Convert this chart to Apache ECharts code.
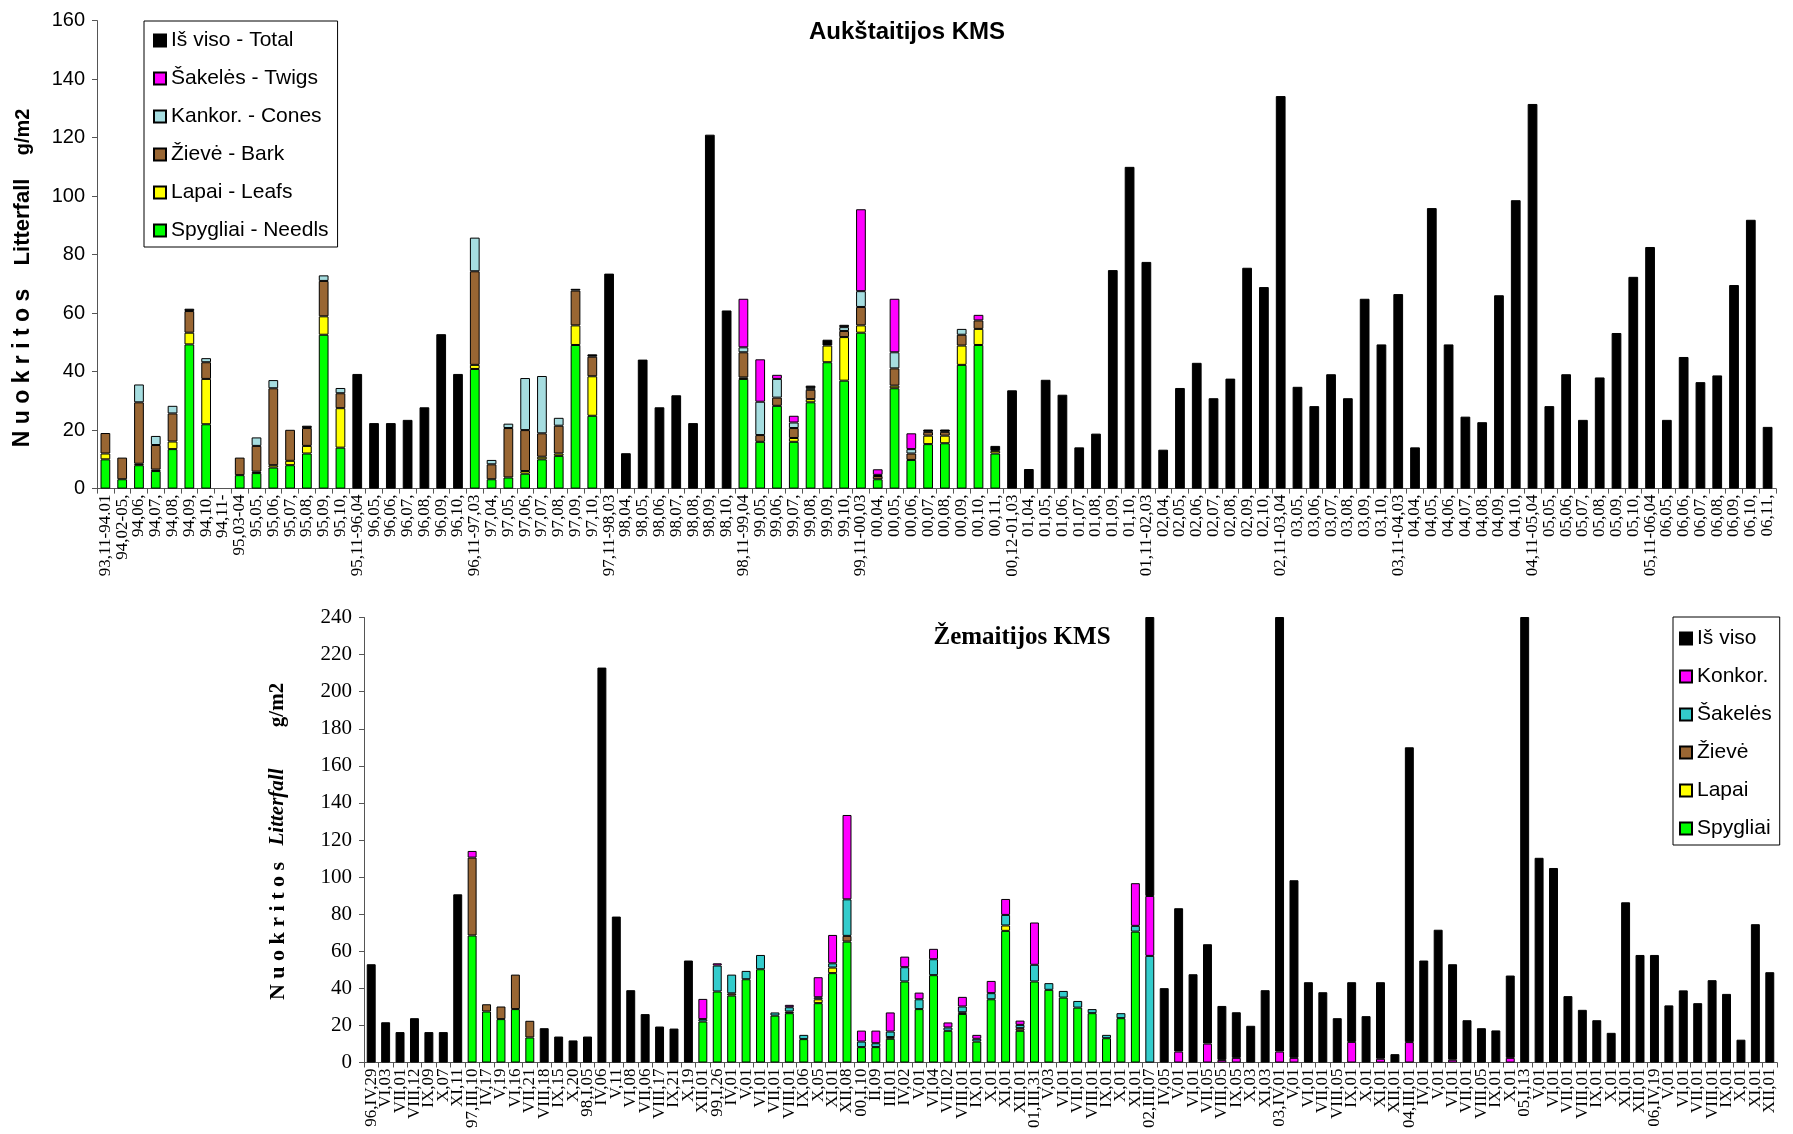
<!DOCTYPE html>
<html>
<head>
<meta charset="utf-8">
<script src="https://cdn.jsdelivr.net/npm/echarts@6/dist/echarts.min.js"></script>
<style>
  html, body { margin: 0; padding: 0; background: #fff; }
  #chart { width: 1793px; height: 1134px; }
</style>
</head>
<body>
<div id="chart"></div>
<script>
// ---------- Aukštaitijos KMS (monthly / seasonal periods) ----------
const topCategories = [
  '93,11-94.01','94,02-05,','94,06,','94,07,','94,08,','94,09,','94,10,','94,11-','95,03-04','95,05,',
  '95,06,','95,07,','95,08,','95,09,','95,10,','95,11-96,04','96,05,','96,06,','96,07,','96,08,',
  '96,09,','96,10,','96,11-97,03','97,04,','97,05,','97,06,','97,07,','97,08,','97,09,','97,10,',
  '97,11-98,03','98,04,','98,05,','98,06,','98,07,','98,08,','98,09,','98,10,','98,11-99,04','99,05,',
  '99,06,','99,07,','99,08,','99,09,','99,10,','99,11-00,03','00,04,','00,05,','00,06,','00,07,',
  '00,08,','00,09,','00,10,','00,11,','00,12-01,03','01,04,','01,05,','01,06,','01,07,','01,08,',
  '01,09,','01,10,','01,11-02,03','02,04,','02,05,','02,06,','02,07,','02,08,','02,09,','02,10,',
  '02,11-03,04','03,05,','03,06,','03,07,','03,08,','03,09,','03,10,','03,11-04,03','04,04,','04,05,',
  '04,06,','04,07,','04,08,','04,09,','04,10,','04,11-05,04','05,05,','05,06,','05,07,','05,08,',
  '05,09,','05,10,','05,11-06,04','06,05,','06,06,','06,07,','06,08,','06,09,','06,10,','06,11,'
];
const topNeedles = [
  10,3.2,8,6,13.5,49.3,22,null,4.6,5.3,
  7.2,8,12,52.6,14,null,null,null,null,null,
  null,null,40.9,3.2,3.8,5.1,10,11.2,49.1,24.9,
  null,null,null,null,null,null,null,null,37.5,16,
  28.3,16,29.5,43.2,36.9,53.3,3.2,34.3,9.8,15.2,
  15.5,42.3,49.1,12
];
const topLeafs = [
  2,null,0.5,0.5,2.6,4,15.5,null,null,0.5,
  0.8,1.5,2.6,6.3,13.5,null,null,null,null,null,
  null,null,1.4,null,null,0.9,0.9,0.8,6.7,13.5,
  null,null,null,null,null,null,null,null,0.5,null,
  null,1.3,1.1,5.7,14.9,2.5,null,0.9,null,2.9,
  2.6,6.6,5.5,0.9
];
const topBark = [
  7,7.4,21,8.4,9.6,7.4,5.7,null,6,8.8,
  26.3,10.6,6.1,12.1,5.1,null,null,null,null,null,
  null,null,32,5.1,16.9,14,8,9.5,11.9,6.7,
  null,null,null,null,null,null,null,null,8.6,2.3,
  2.8,3.4,3.2,null,2.1,6.3,1.1,5.9,2.2,1.3,
  1.3,3.7,2.9
];
const topCones = [
  null,null,6.1,3.1,2.6,null,1.4,null,null,2.9,
  2.8,null,null,1.9,1.8,null,null,null,null,null,
  null,null,11.5,1.5,1.5,17.8,19.6,2.7,null,null,
  null,null,null,null,null,null,null,null,1.7,11.4,
  6.4,1.9,0.5,null,1.3,5.4,0.4,5.5,1.5,null,
  null,2
];
const topTwigs = [
  null,null,null,null,null,null,null,null,null,null,
  null,null,null,null,null,null,null,null,null,null,
  null,null,null,null,null,null,null,null,null,null,
  null,null,null,null,null,null,null,null,16.6,14.5,
  1.4,2.3,null,null,null,28,1.9,18.3,5.4,null,
  null,null,1.9
];
const topTotal = [
  null,null,null,null,null,0.8,null,null,null,null,
  null,null,0.8,null,null,39.2,22.4,22.4,23.5,27.8,
  52.8,39.2,null,null,null,null,null,null,0.6,0.8,
  73.5,12.1,44.1,27.8,31.9,22.4,121,60.9,null,null,
  null,null,0.9,2,0.8,null,null,null,null,0.8,
  0.8,null,null,1.7,33.6,6.7,37.2,32.1,14.1,18.8,
  74.7,110,77.5,13.3,34.4,43,30.9,37.6,75.5,68.9,
  134.2,34.8,28.2,39.1,30.9,64.9,49.3,66.5,14.1,95.9,
  49.3,24.6,22.7,66.1,98.6,131.5,28.2,39.1,23.5,38,
  53.2,72.4,82.6,23.5,45,36.4,38.7,69.6,91.9,21.1
];
const topTicks = [0, 20, 40, 60, 80, 100, 120, 140, 160];

// ---------- Žemaitijos KMS (sampling dates) ----------
const bottomCategories = [
  '96,IV,29','VI,03','VII,01','VIII,12','IX,09','X,07','XI,11','97,III,10','IV,17','V,19',
  'VI,16','VII,21','VIII,18','IX,15','X,20','98,I,05','IV,06','V,11','VI,08','VII,06',
  'VIII,17','IX,21','X,19','XII,01','99,I,26','IV,01','V,01','VI,01','VII,01','VIII,01',
  'IX,06','X,05','XI,01','XII,08','00,I,10','II,09','III,01','IV,02','V,01','VI,04',
  'VII,02','VIII,01','IX,01','X,01','XI,01','XII,01','01,III,31','V,03','VI,01','VII,01',
  'VIII,01','IX,01','X,01','XI,01','02,III,07','IV,05','V,01','VI,01','VII,05','VIII,05',
  'IX,05','X,03','XI,03','03,IV,01','V,01','VI,01','VII,01','VIII,05','IX,01','X,01',
  'XI,01','XII,01','04,III,01','IV,01','V,01','VI,01','VII,01','VIII,05','IX,01','X,01',
  '05,I,13','V,01','VI,01','VII,01','VIII,01','IX,01','X,01','XI,01','XII,01','06,IV,19',
  'V,01','VI,01','VII,01','VIII,01','IX,01','X,01','XI,01','XII,01'
];
const bottomNeedles = [
  null,null,null,null,null,null,null,68.5,27.5,23.4,
  28.8,13.5,null,null,null,null,null,null,null,null,
  null,null,null,22.1,38.3,36.1,44.9,50.3,25.3,26.6,
  12.6,32,48.2,65.2,8.3,8.3,12.8,43.7,28.8,47.1,
  17.1,26.2,11.3,34.1,71,17.1,43.7,39.2,35,29.6,
  26.6,13.1,23.9,70.6
];
const bottomLeafs = [
  null,null,null,null,null,null,null,null,null,null,
  null,null,null,null,null,null,null,null,null,null,
  null,null,null,null,null,null,null,null,null,null,
  null,2.1,3,null,null,null,null,null,null,null,
  null,null,null,null,2.9
];
const bottomBark = [
  null,null,null,null,null,null,null,42,3.9,6.8,
  18.6,9,null,null,null,null,null,null,null,null,
  null,null,null,null,null,1.2,null,null,null,0.9,
  null,null,null,3.1,null,null,0.9,null,null,null,
  null,0.9,null,null,null,1.4
];
const bottomTwigs = [
  null,null,null,null,null,null,null,null,null,null,
  null,null,null,null,null,null,null,null,null,null,
  null,null,null,1.3,14,10.1,4.5,7.7,1.7,2.3,
  2.3,1.1,2.3,19.7,3,2.1,3,7.7,5.3,8.6,
  1.8,3.1,1.5,3.3,5.7,1.8,9,3.6,3.6,3.6,
  2.2,1.8,2.7,3.1,57.5
];
const bottomCones = [
  null,null,null,null,null,null,null,3.6,null,null,
  null,null,null,null,null,null,null,null,null,null,
  null,null,null,10.9,1.2,null,null,null,null,1.3,
  null,10.8,15.3,45.5,5.9,6.8,10.3,5.7,3.6,5.6,
  2.7,5.2,2.1,6.6,8.6,2.3,22.8,null,null,null,
  null,null,null,23,32.3,null,5.9,null,10.2,1.4,
  2.5,null,null,5.9,2.5,null,null,null,11.1,null,
  2,null,11,null,null,1.5,null,null,null,2.5
];
const bottomTotal = [
  53,21.7,16.4,23.9,16.4,16.4,90.7,null,null,null,
  null,null,18.5,14,11.9,14,213,78.7,39,26.1,
  19.4,18.3,55,null,null,null,null,null,null,null,
  null,null,null,null,null,null,null,null,null,null,
  null,null,null,null,null,null,null,null,null,null,
  null,null,null,null,160,40.1,77.3,47.6,53.6,29.1,
  24.6,19.8,39,250,95.8,43.3,37.9,23.9,32.2,25,
  41.3,4.5,159,55,71.6,51.5,22.8,18.5,17.3,44.4,
  260,110.4,104.9,35.8,28.4,22.8,16,86.4,58,58,
  30.8,38.9,32,44.4,37,12.3,74.6,48.7
];
const bottomTicks = [0, 20, 40, 60, 80, 100, 120, 140, 160, 180, 200, 220, 240];

// ---------- drawing ----------
const GREEN = '#00FF00', YELLOW = '#FFFF00', BROWN = '#996633',
      LIGHTBLUE = '#A6DDE0', MAGENTA = '#FF00FF', TEAL = '#33CCCC', BLACK = '#000000';
const SANS = '"Liberation Sans", Arial, sans-serif';
const SERIF = '"Liberation Serif", "Times New Roman", serif';

const fill = (arr, n) => arr.concat(new Array(Math.max(0, n - arr.length)).fill(null));

function stackedBar(name, values, color, axis, n, width) {
  return {
    type: 'bar', name: name, data: fill(values, n),
    stack: 'litter' + axis, xAxisIndex: axis, yAxisIndex: axis,
    barWidth: width,
    itemStyle: { color: color, borderColor: '#000', borderWidth: 1 },
    emphasis: { disabled: true },
    animation: false
  };
}

const nTop = topCategories.length, nBottom = bottomCategories.length;

const chart = echarts.init(document.getElementById('chart'), null, { renderer: 'canvas' });

function catAxis(gridIndex, data) {
  return {
    type: 'category', gridIndex: gridIndex, data: data,
    axisLine: { show: true, lineStyle: { color: '#555', width: 1 } },
    axisTick: { show: true, length: 5, lineStyle: { color: '#555' } },
    axisLabel: {
      interval: 0, rotate: 90, margin: 6, color: '#000',
      fontFamily: SERIF, fontSize: 17
    },
    splitLine: { show: false }
  };
}
function valAxis(gridIndex, ticks, family, size) {
  return {
    type: 'value', gridIndex: gridIndex,
    min: ticks[0], max: ticks[ticks.length - 1], interval: ticks[1] - ticks[0],
    axisLine: { show: true, lineStyle: { color: '#555', width: 1 } },
    axisTick: { show: true, length: 5, lineStyle: { color: '#555' } },
    axisLabel: { color: '#000', fontFamily: family, fontSize: size, margin: 12 },
    splitLine: { show: false }
  };
}

const option = {
  backgroundColor: '#ffffff',
  animation: false,
  grid: [
    { left: 97, top: 20.6, width: 1679, height: 468, containLabel: false, outerBoundsMode: 'none' },
    { left: 364, top: 617.5, width: 1413, height: 445, containLabel: false, outerBoundsMode: 'none' }
  ],
  xAxis: [ catAxis(0, topCategories), catAxis(1, bottomCategories) ],
  yAxis: [ valAxis(0, topTicks, SANS, 20), valAxis(1, bottomTicks, SERIF, 21) ],
  legend: [
    {
      orient: 'vertical', left: 144, top: 21,
      data: ['Iš viso - Total', 'Šakelės - Twigs', 'Kankor. - Cones', 'Žievė - Bark', 'Lapai - Leafs', 'Spygliai - Needls'],
      icon: 'rect', itemWidth: 12, itemHeight: 12, itemGap: 17,
      padding: [9, 9, 6, 9],
      backgroundColor: '#fff', borderColor: '#000', borderWidth: 1,
      textStyle: { color: '#000', fontFamily: SANS, fontSize: 21 },
      selectedMode: false
    },
    {
      orient: 'vertical', left: 1673, top: 617,
      data: ['Iš viso', 'Konkor.', 'Šakelės', 'Žievė', 'Lapai', 'Spygliai'],
      icon: 'rect', itemWidth: 12, itemHeight: 12, itemGap: 17,
      padding: [11, 8, 6, 6],
      backgroundColor: '#fff', borderColor: '#000', borderWidth: 1,
      textStyle: { color: '#000', fontFamily: SANS, fontSize: 21 },
      selectedMode: false
    }
  ],
  series: [
    stackedBar('Spygliai - Needls', topNeedles, GREEN, 0, nTop, '58%'),
    stackedBar('Lapai - Leafs', topLeafs, YELLOW, 0, nTop, '58%'),
    stackedBar('Žievė - Bark', topBark, BROWN, 0, nTop, '58%'),
    stackedBar('Kankor. - Cones', topCones, LIGHTBLUE, 0, nTop, '58%'),
    stackedBar('Šakelės - Twigs', topTwigs, MAGENTA, 0, nTop, '58%'),
    stackedBar('Iš viso - Total', topTotal, BLACK, 0, nTop, '58%'),

    stackedBar('Spygliai', bottomNeedles, GREEN, 1, nBottom, '62%'),
    stackedBar('Lapai', bottomLeafs, YELLOW, 1, nBottom, '62%'),
    stackedBar('Žievė', bottomBark, BROWN, 1, nBottom, '62%'),
    stackedBar('Šakelės', bottomTwigs, TEAL, 1, nBottom, '62%'),
    stackedBar('Konkor.', bottomCones, MAGENTA, 1, nBottom, '62%'),
    stackedBar('Iš viso', bottomTotal, BLACK, 1, nBottom, '62%')
  ],
  graphic: [
    // chart titles
    { type: 'text', x: 907, y: 32, silent: true,
      style: { text: 'Aukštaitijos KMS', fontFamily: SANS, fontWeight: 'bold', fontSize: 24,
               fill: '#000', textAlign: 'center', textVerticalAlign: 'middle' } },
    { type: 'text', x: 1022, y: 638, silent: true,
      style: { text: 'Žemaitijos KMS', fontFamily: SERIF, fontWeight: 'bold', fontSize: 25,
               fill: '#000', textAlign: 'center', textVerticalAlign: 'middle' } },
    // vertical axis names, upper chart
    { type: 'text', x: 23, y: 368, rotation: Math.PI / 2, silent: true,
      style: { text: 'N u o k r i t o s', fontFamily: SANS, fontWeight: 'bold', fontSize: 23,
               fill: '#000', textAlign: 'center', textVerticalAlign: 'middle' } },
    { type: 'text', x: 23, y: 222, rotation: Math.PI / 2, silent: true,
      style: { text: 'Litterfall', fontFamily: SANS, fontWeight: 'bold', fontSize: 22,
               fill: '#000', textAlign: 'center', textVerticalAlign: 'middle' } },
    { type: 'text', x: 23, y: 132, rotation: Math.PI / 2, silent: true,
      style: { text: 'g/m2', fontFamily: SANS, fontWeight: 'bold', fontSize: 20,
               fill: '#000', textAlign: 'center', textVerticalAlign: 'middle' } },
    // vertical axis names, lower chart
    { type: 'text', x: 278, y: 931, rotation: Math.PI / 2, silent: true,
      style: { text: 'N u o k r i t o s', fontFamily: SERIF, fontWeight: 'bold', fontSize: 22,
               fill: '#000', textAlign: 'center', textVerticalAlign: 'middle' } },
    { type: 'text', x: 278, y: 807, rotation: Math.PI / 2, silent: true,
      style: { text: 'Litterfall', fontFamily: SERIF, fontWeight: 'bold', fontStyle: 'italic', fontSize: 21,
               fill: '#000', textAlign: 'center', textVerticalAlign: 'middle' } },
    { type: 'text', x: 278, y: 705, rotation: Math.PI / 2, silent: true,
      style: { text: 'g/m2', fontFamily: SERIF, fontWeight: 'bold', fontSize: 21,
               fill: '#000', textAlign: 'center', textVerticalAlign: 'middle' } }
  ]
};

chart.setOption(option);
</script>
</body>
</html>
